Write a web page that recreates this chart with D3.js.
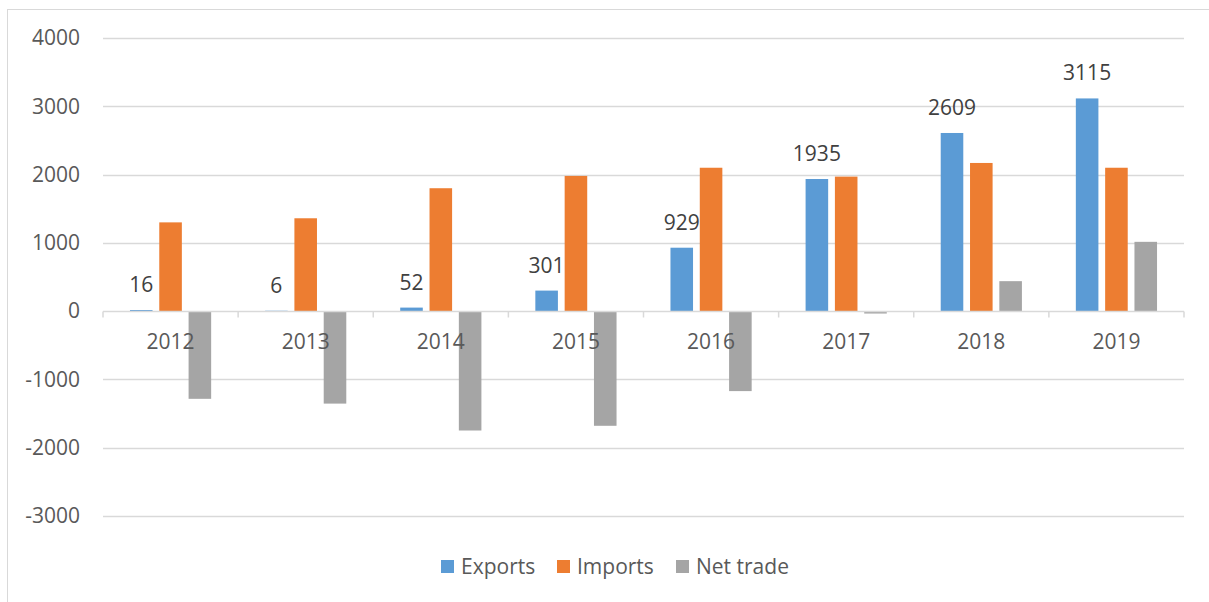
<!DOCTYPE html>
<html>
<head>
<meta charset="utf-8">
<script src="https://cdn.jsdelivr.net/npm/d3@7"></script>
<style>
  body { margin: 0; background: #fff; }
  text { font-family: "Open Sans", sans-serif; }
</style>
</head>
<body>
<svg id="chart" width="1209" height="602"></svg>
<script>
// data
const years = ["2012", "2013", "2014", "2015", "2016", "2017", "2018", "2019"];
const exportsVals = [16, 6, 52, 301, 929, 1935, 2609, 3115];
const importsVals = [1300, 1360, 1800, 1980, 2100, 1970, 2170, 2100];
const netTrade = [-1284, -1354, -1748, -1679, -1171, -35, 439, 1015];
const yTicks = [-3000, -2000, -1000, 0, 1000, 2000, 3000, 4000];

const seriesNames = ["Exports", "Imports", "Net trade"];
const colors = ["#5B9BD5", "#ED7D31", "#A5A5A5"];
const seriesVals = [exportsVals, importsVals, netTrade];

const svg = d3.select("#chart");

// outer chart border
svg.append("rect")
  .attr("x", 7.5).attr("y", 9.5)
  .attr("width", 1240).attr("height", 640)
  .attr("fill", "none").attr("stroke", "#d9d9d9");

const left = 103, right = 1184;

const x = d3.scaleBand().domain(years).range([left, right]);
const xs = d3.scaleBand().domain(seriesNames)
  .range([0, x.bandwidth()]).paddingInner(0.23).paddingOuter(0.92);
const y = d3.scaleLinear().domain([-3000, 4000]).range([516, 38]);

// gridlines
svg.append("g").selectAll("line")
  .data(yTicks.filter(d => d !== 0))
  .join("line")
  .attr("x1", left).attr("x2", right)
  .attr("y1", d => Math.round(y(d)) + 0.5).attr("y2", d => Math.round(y(d)) + 0.5)
  .attr("stroke", "#d9d9d9").attr("stroke-width", 1.5);

// y labels
svg.append("g").selectAll("text")
  .data(yTicks)
  .join("text")
  .attr("x", 80).attr("y", d => y(d))
  .attr("dy", "0.35em")
  .attr("text-anchor", "end")
  .attr("font-size", 21)
  .attr("fill", "#595959")
  .text(d => d);

// bars
seriesVals.forEach((vals, si) => {
  svg.append("g").selectAll("rect")
    .data(years)
    .join("rect")
    .attr("x", (d) => x(d) + xs(seriesNames[si]))
    .attr("width", xs.bandwidth())
    .attr("y", (d, i) => y(Math.max(0, vals[i])))
    .attr("height", (d, i) => Math.abs(y(vals[i]) - y(0)))
    .attr("fill", colors[si]);
});

// zero axis with tick marks at category edges
const y0 = Math.round(y(0)) + 0.5;
svg.append("line")
  .attr("x1", left).attr("x2", right)
  .attr("y1", y0).attr("y2", y0)
  .attr("stroke", "#d9d9d9").attr("stroke-width", 1.5);
svg.append("g").selectAll("line")
  .data(years.map(d => x(d)).concat([right]))
  .join("line")
  .attr("x1", d => d).attr("x2", d => d)
  .attr("y1", y0).attr("y2", y0 + 6)
  .attr("stroke", "#d9d9d9").attr("stroke-width", 1.5);

// category labels
svg.append("g").selectAll("text")
  .data(years)
  .join("text")
  .attr("x", d => x(d) + x.bandwidth() / 2)
  .attr("y", 349)
  .attr("text-anchor", "middle")
  .attr("font-size", 21)
  .attr("fill", "#595959")
  .text(d => d);

// data labels on exports
svg.append("g").selectAll("text")
  .data(years)
  .join("text")
  .attr("x", d => x(d) + xs("Exports") + xs.bandwidth() / 2)
  .attr("y", (d, i) => y(exportsVals[i]) - 18)
  .attr("text-anchor", "middle")
  .attr("font-size", 21)
  .attr("fill", "#404040")
  .text((d, i) => exportsVals[i]);

// legend
const legendX = [441, 557, 676];
const lg = svg.append("g").selectAll("g")
  .data(seriesNames)
  .join("g")
  .attr("transform", (d, i) => `translate(${legendX[i]},567)`);
lg.append("rect")
  .attr("x", 0).attr("y", -7)
  .attr("width", 13).attr("height", 13)
  .attr("fill", (d, i) => colors[i]);
lg.append("text")
  .attr("x", 20).attr("y", 0)
  .attr("dy", "0.35em")
  .attr("font-size", 21)
  .attr("fill", "#595959")
  .text(d => d);
</script>
</body>
</html>
